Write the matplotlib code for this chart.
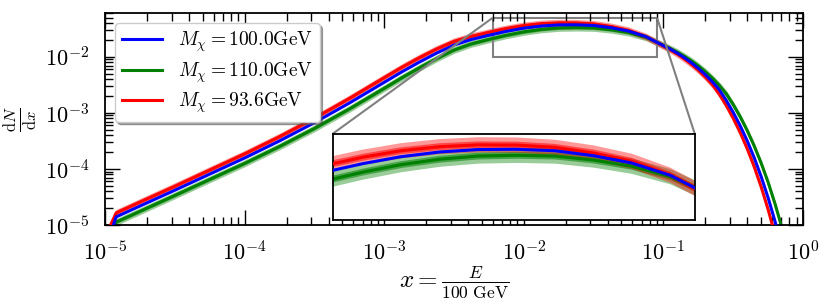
import numpy as np
import matplotlib
matplotlib.use("Agg")
import matplotlib.pyplot as plt
from mpl_toolkits.axes_grid1.inset_locator import mark_inset

plt.rcParams["font.family"] = "serif"
plt.rcParams["font.serif"] = ["cmr10"]
plt.rcParams["mathtext.fontset"] = "cm"
plt.rcParams["axes.formatter.use_mathtext"] = True

# log10 of x = E / 100 GeV
log_x = [-4.96, -4.92, -4.75, -4.5, -4.25, -4.0, -3.75, -3.5, -3.25, -3.0,
         -2.875, -2.75, -2.625, -2.5, -2.375, -2.25, -2.125, -2.0, -1.875, -1.75,
         -1.625, -1.5, -1.375, -1.25, -1.125, -1.0, -0.95, -0.9, -0.85, -0.8,
         -0.75, -0.7, -0.65, -0.6, -0.55, -0.5, -0.45, -0.4, -0.35, -0.3,
         -0.25, -0.2, -0.15, -0.1]

# log10 of dN/dx for each mass
log_blue = [-5.15, -4.855, -4.6625, -4.38, -4.0925, -3.805, -3.50, -3.175, -2.825, -2.455,
            -2.27, -2.096, -1.934, -1.79, -1.69, -1.615, -1.545, -1.488, -1.45, -1.43,
            -1.428, -1.44, -1.48, -1.54, -1.64, -1.80, -1.863, -1.935, -2.015, -2.104,
            -2.205, -2.317, -2.444, -2.586, -2.776, -2.99, -3.229, -3.497, -3.798, -4.136,
            -4.515, -4.94, -5.418, -5.95]
log_green = [-5.3, -4.947, -4.755, -4.472, -4.186, -3.900, -3.598, -3.276, -2.929, -2.5605,
             -2.374, -2.197, -2.030, -1.877, -1.766, -1.687, -1.614, -1.553, -1.509, -1.483,
             -1.477, -1.483, -1.515, -1.566, -1.651, -1.794, -1.852, -1.916, -1.989, -2.070,
             -2.161, -2.264, -2.379, -2.508, -2.658, -2.852, -3.069, -3.314, -3.588, -3.895,
             -4.239, -4.627, -5.061, -5.548]
log_red = [-5.0, -4.783, -4.590, -4.308, -4.019, -3.730, -3.423, -3.095, -2.742, -2.371,
           -2.187, -2.016, -1.859, -1.723, -1.632, -1.561, -1.493, -1.440, -1.407, -1.392,
           -1.394, -1.412, -1.458, -1.526, -1.639, -1.806, -1.874, -1.950, -2.036, -2.131,
           -2.238, -2.359, -2.494, -2.664, -2.867, -3.095, -3.351, -3.638, -3.959, -4.320,
           -4.724, -5.179, -5.689, -6.2]

labels = [r"$M_\chi = 100.0\mathrm{GeV}$", r"$M_\chi = 110.0\mathrm{GeV}$",
          r"$M_\chi = 93.6\mathrm{GeV}$"]
colors = ["#0000ff", "#008000", "#ff0000"]

# band half widths (dex)
band_inner = 0.028
band_outer = 0.062

x = 10.0 ** np.array(log_x)
yb = np.array(log_blue)
yg = np.array(log_green)
yr = np.array(log_red)


def draw(a):
    for ly, c in [(yg, colors[1]), (yr, colors[2])]:
        a.fill_between(x, 10 ** (ly - band_outer), 10 ** (ly + band_outer),
                       color=c, alpha=0.4, lw=0, zorder=1)
        a.fill_between(x, 10 ** (ly - band_inner), 10 ** (ly + band_inner),
                       color=c, alpha=0.55, lw=0, zorder=1)
    lg, = a.plot(x, 10 ** yg, color=colors[1], lw=2.2, zorder=2)
    lr, = a.plot(x, 10 ** yr, color=colors[2], lw=2.2, zorder=3)
    lb, = a.plot(x, 10 ** yb, color=colors[0], lw=2.2, zorder=4)
    return [lb, lg, lr]


fig = plt.figure(figsize=(8.3, 3.08), dpi=100)
ax = fig.add_axes([0.1265, 0.2695, 0.8410, 0.6875])
handles = draw(ax)
ax.set_xscale("log")
ax.set_yscale("log")
ax.set_xlim(1e-5, 1)
ax.set_ylim(1e-5, 6e-2)
ax.tick_params(which="both", direction="in", top=True, right=True, labelsize=16)
ax.tick_params(which="major", length=11, width=1, pad=11)
ax.tick_params(which="minor", length=5.5, width=1)
for s in ax.spines.values():
    s.set_linewidth(1.3)
ax.set_xlabel(r"$x = \frac{E}{100\ \mathrm{GeV}}$", fontsize=18, labelpad=0)
ax.set_ylabel(r"$\frac{\mathrm{d}N}{\mathrm{d}x}$", fontsize=17, labelpad=4)
ax.legend(handles, labels, loc="upper left", fontsize=14, fancybox=True, shadow=True,
          framealpha=1, handlelength=2.1, labelspacing=0.3, borderpad=0.35)

axins = fig.add_axes([0.401, 0.287, 0.436, 0.279])
draw(axins)
axins.set_xscale("log")
axins.set_yscale("log")
axins.set_xlim(6e-3, 9e-2)
axins.set_ylim(1e-2, 5e-2)
axins.tick_params(which="both", bottom=False, left=False, top=False, right=False,
                  labelbottom=False, labelleft=False)
for s in axins.spines.values():
    s.set_linewidth(1.3)
mark_inset(ax, axins, loc1=2, loc2=1, fc="none", ec="0.5", lw=1.5)

fig.savefig("out.png", dpi=100)
